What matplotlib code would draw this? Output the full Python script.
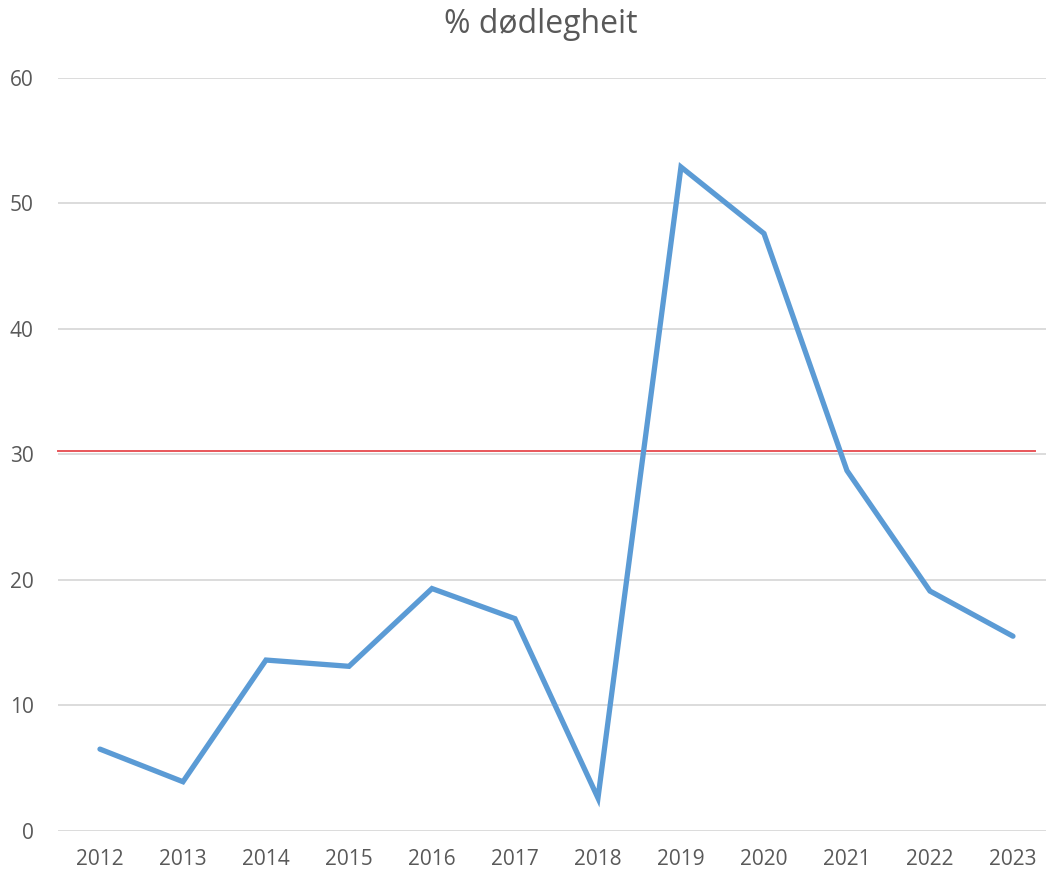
import matplotlib.pyplot as plt

years = ['2012', '2013', '2014', '2015', '2016', '2017',
         '2018', '2019', '2020', '2021', '2022', '2023']
mortality = [6.5, 3.9, 13.6, 13.1, 19.3, 16.9, 2.6, 52.9, 47.6, 28.7, 19.1, 15.5]
threshold = 30.3

plt.rcParams['font.family'] = ['Open Sans', 'DejaVu Sans']

fig = plt.figure(figsize=(10.46, 8.73), dpi=100)
# plot area runs a little past the right edge, as in the original
ax = fig.add_axes([0.0559, 0.0485, 0.9522, 0.8622])

x = list(range(len(years)))
ax.plot(x, mortality, color='#5B9BD5', linewidth=3.8, solid_joinstyle='miter',
        solid_capstyle='round', zorder=3)
ax.plot([-0.51, 11.27], [threshold, threshold], color='#E8565A',
        linewidth=1.4, clip_on=False, zorder=2)

ax.set_xlim(-0.5, len(years) - 0.5)
ax.set_ylim(0, 60)
ax.set_yticks(range(0, 61, 10))
ax.set_xticks(x)
ax.set_xticklabels(years)
ax.grid(axis='y', color='#D9D9D9', linewidth=1.3)
ax.set_axisbelow(True)
for s in ax.spines.values():
    s.set_visible(False)
ax.tick_params(length=0, labelsize=15, colors='#595959')
ax.tick_params(axis='y', pad=18)
ax.tick_params(axis='x', pad=13)

fig.text(0.517, 0.972, '% dødlegheit', ha='center', va='center',
         fontsize=23, color='#595959')

fig.savefig('out.png', dpi=100)
